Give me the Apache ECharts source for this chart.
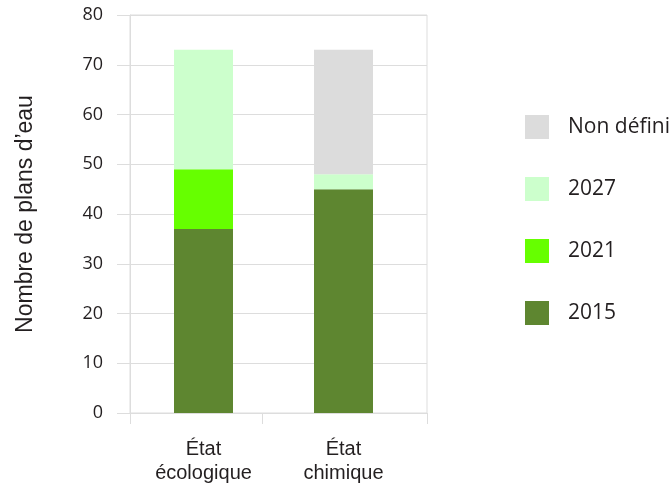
<!DOCTYPE html>
<html>
<head>
<meta charset="utf-8">
<script src="https://cdn.jsdelivr.net/npm/echarts@6/dist/echarts.min.js"></script>
<style>html,body{margin:0;padding:0;background:#fff;}#c{width:672px;height:486px;}</style>
</head>
<body>
<div id="c"></div>
<script>
const categories = ['État\nécologique', 'État\nchimique'];
const v2015 = [37, 45];
const v2021 = [12, 0];
const v2027 = [24, 3];
const vNonDefini = [0, 25];
const yTicks = [0, 10, 20, 30, 40, 50, 60, 70, 80];
const legendOrder = ['Non défini', '2027', '2021', '2015'];

const chart = echarts.init(document.getElementById('c'), null, {renderer: 'canvas'});
const mk = (name, arr, color) => ({
  name: name, type: 'bar', stack: 'total', barWidth: 59,
  xAxisIndex: 1, yAxisIndex: 1,
  data: arr, itemStyle: {color: color}, emphasis: {disabled: true}
});
chart.setOption({
  animation: false,
  grid: [
    {left: 130, right: 245, top: 15, bottom: 73, show: true, borderColor: '#dddddd', borderWidth: 1},
    {left: 133.5, right: 258.5, top: 15, bottom: 73}
  ],
  legend: {
    orient: 'vertical', left: 520, top: 110, itemWidth: 24, itemHeight: 24, itemGap: 38,
    icon: 'rect', data: legendOrder, selectedMode: false,
    textStyle: {fontFamily: 'Open Sans', fontSize: 21, color: '#231f20', padding: [0, 0, 0, 14]}
  },
  xAxis: [
    {
      gridIndex: 0, type: 'value', min: -0.525, max: 1.596,
      splitLine: {show: false},
      axisLine: {show: true, onZero: false, lineStyle: {color: '#dddddd', width: 1}},
      axisTick: {show: true, length: 11, customValues: [-0.525, 0.418, 1.596], lineStyle: {color: '#dddddd'}},
      axisLabel: {show: false}
    },
    {
      gridIndex: 1, type: 'category', data: categories,
      axisLine: {show: false}, axisTick: {show: false}, splitLine: {show: false},
      axisLabel: {
        margin: 24, lineHeight: 24,
        fontFamily: 'Liberation Sans', fontSize: 20, color: '#231f20'
      }
    }
  ],
  yAxis: [
    {
      gridIndex: 0, type: 'value', min: 0, max: 80, interval: 10,
      name: 'Nombre de plans d’eau', nameLocation: 'middle', nameRotate: 90, nameGap: 93,
      nameTextStyle: {fontFamily: 'Liberation Sans', fontSize: 23, color: '#231f20'},
      axisLine: {show: true, onZero: false, lineStyle: {color: '#dddddd'}},
      axisTick: {show: true, length: 13, lineStyle: {color: '#dddddd'}},
      splitLine: {show: true, lineStyle: {color: '#dddddd', width: 1}},
      axisLabel: {
        margin: 27, fontFamily: 'Open Sans', fontSize: 18, color: '#231f20',
        formatter: v => yTicks.indexOf(v) >= 0 ? String(v) : ''
      }
    },
    {
      gridIndex: 1, type: 'value', min: 0, max: 80, interval: 10, show: false,
      splitLine: {show: false}
    }
  ],
  series: [
    mk('2015', v2015, '#5e8630'),
    mk('2021', v2021, '#66ff00'),
    mk('2027', v2027, '#ccffcc'),
    mk('Non défini', vNonDefini, '#dcdcdc')
  ]
});
</script>
</body>
</html>
